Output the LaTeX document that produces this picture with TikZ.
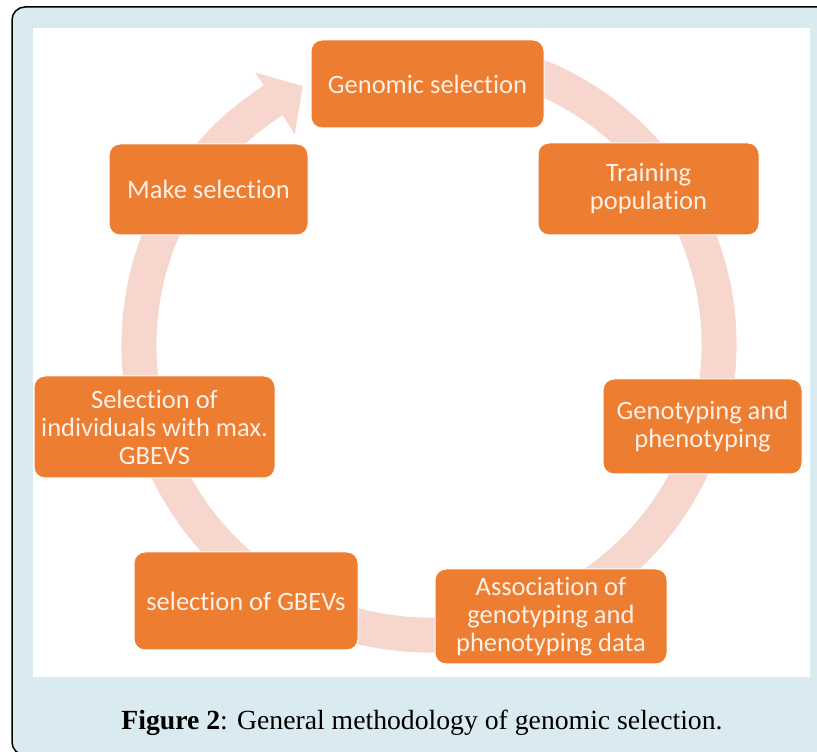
\documentclass[tikz,border=0pt]{standalone}
\usepackage{fontspec}
\setmainfont{Liberation Serif}
\newfontfamily\boxfont[Ligatures=NoCommon]{Carlito}
\usetikzlibrary{calc}
\definecolor{accent}{HTML}{ED7D31}
\definecolor{ringc}{HTML}{F7D7CD}
\definecolor{panelbg}{HTML}{D9EBF0}
\definecolor{boxtext}{HTML}{FDF0E6}

\begin{document}
\begin{tikzpicture}[x=1pt,y=1pt,
      main node/.style={fill=accent,draw=white,line width=1pt,rounded corners=11pt,
        text=boxtext,align=center,inner sep=0pt,
        font=\boxfont\fontsize{26.5}{28}\selectfont},
      ring/.style={draw=ringc,line width=35pt}]
    \useasboundingbox (0,0) rectangle (817,752);
    \clip (0,0) rectangle (817,752);
    \draw[fill=panelbg,line width=1.5pt,rounded corners=13pt] (12,-3) rectangle (860,745);
    \fill[white] (33,75) rectangle (810,724);
    \coordinate (ctr) at (429,407);
    \draw[ring] ($(ctr)+(78:290)$) arc[start angle=78,end angle=-237.5,radius=290];
    \fill[ringc] ($(ctr)+(122.5:250)$) -- ($(ctr)+(116:288)$) -- ($(ctr)+(122.5:323)$) -- cycle;
    \node[main node,minimum width=233pt,minimum height=88pt] (GS) at (427.5,668) {Genomic selection};
    \node[main node,minimum width=221pt,minimum height=92pt] (TP) at (648.5,563) {Training\\population};
    \node[main node,minimum width=199pt,minimum height=95pt] (GP) at (702.5,325.5) {Genotyping and\\phenotyping};
    \node[main node,minimum width=232pt,minimum height=95pt] (AS) at (551,135.5) {Association of\\genotyping and\\phenotyping data};
    \node[main node,minimum width=224pt,minimum height=98pt] (SG) at (246,151) {selection of GBEVs};
    \node[main node,minimum width=241pt,minimum height=102pt] (SI) at (154.5,325) {Selection of\\individuals with max.\\GBEVS};
    \node[main node,minimum width=199pt,minimum height=91pt] (MS) at (208.5,562.5) {Make selection};
    \node[font=\fontsize{27.7}{32}\selectfont] (cap) at (422,29) {\textbf{Figure 2}: General methodology of genomic selection.};
\end{tikzpicture}
\end{document}
